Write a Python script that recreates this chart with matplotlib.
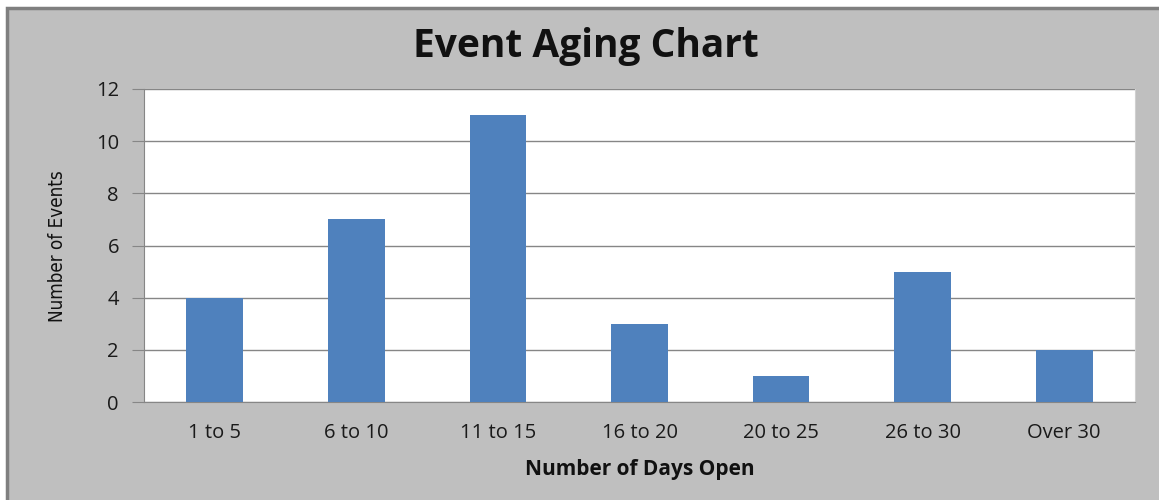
import matplotlib
matplotlib.use("Agg")
import matplotlib.pyplot as plt
from matplotlib.patches import Rectangle

categories = ["1 to 5", "6 to 10", "11 to 15", "16 to 20", "20 to 25", "26 to 30", "Over 30"]
events = [4, 7, 11, 3, 1, 5, 2]
yticks = [0, 2, 4, 6, 8, 10, 12]

BG = "#bfbfbf"
BAR = "#4f81bd"
GRID = "#868686"

plt.rcParams['font.family'] = ['Open Sans', 'DejaVu Sans']

fig = plt.figure(figsize=(11.59, 5.0), dpi=100, facecolor="white")
W, H = 1159, 500
fig.patches.append(Rectangle((7 / W, -0.01), 1 - 7 / W + 0.01, 1 - 8 / H + 0.01,
                             transform=fig.transFigure, facecolor=BG,
                             edgecolor="#7f7f7f", linewidth=2.5, zorder=-5))

ax = fig.add_axes([144 / W, 1 - 402 / H, (1135 - 144) / W, (402 - 89) / H])
ax.set_zorder(2)
ax.set_facecolor("white")
x = list(range(len(categories)))
ax.bar(x, events, width=0.4, color=BAR, zorder=3)
ax.set_xlim(-0.5, len(categories) - 0.5)
ax.set_ylim(0, 12)
ax.set_yticks(yticks)
ax.set_xticks(x)
ax.set_xticklabels(categories, fontsize=14.5, color="#1a1a1a")
ax.tick_params(axis="x", length=0, pad=15)
ax.tick_params(axis="y", length=9, color=GRID, labelsize=14.5, labelcolor="#1a1a1a", pad=9)
ax.grid(axis="y", color=GRID, linewidth=1, zorder=1)
ax.spines["top"].set_visible(False)
ax.spines["right"].set_color("#d0d0d0")
ax.spines["left"].set_color(GRID)
ax.spines["bottom"].set_color(GRID)

fig.text(586 / W, 1 - 46 / H, "Event Aging Chart", ha="center", va="center",
         fontsize=28, fontweight="bold", color="#111111")
fig.text(640 / W, 1 - 470 / H, "Number of Days Open", ha="center", va="center",
         fontsize=15, fontweight="bold", color="#111111")
fig.text(58 / W, 1 - 246 / H, "Number of Events", ha="center", va="center",
         rotation=90, fontsize=13.5, color="#111111",
         family=['Liberation Sans Narrow', 'DejaVu Sans'], fontstretch="condensed")

fig.savefig("out.png", dpi=100, facecolor="white")
